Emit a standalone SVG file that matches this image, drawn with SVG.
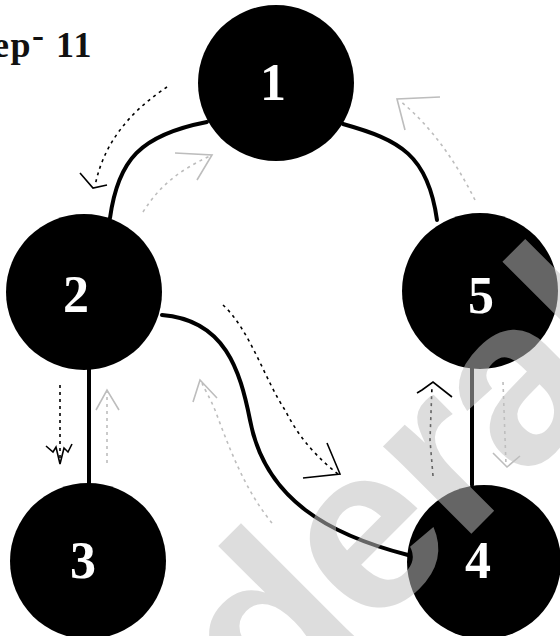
<svg xmlns="http://www.w3.org/2000/svg" width="560" height="636" viewBox="0 0 560 636">
  <style>
    .node circle { fill: #000; }
    .num { font-family: "Liberation Serif", "DejaVu Serif", serif; font-weight: bold; font-size: 52px; fill: #fff; text-anchor: middle; }
    .edge { fill: none; stroke: #000; stroke-width: 4; stroke-linecap: round; }
    .blk { fill: none; stroke: #000; stroke-width: 1.6; stroke-dasharray: 3 4; }
    .blkh { fill: none; stroke: #000; stroke-width: 1.6; }
    .gry { fill: none; stroke: #bdbdbd; stroke-width: 1.6; stroke-dasharray: 3 4; }
    .gryh { fill: none; stroke: #bdbdbd; stroke-width: 1.6; }
    .title { font-family: "Liberation Serif", "DejaVu Serif", serif; font-weight: bold; font-size: 36px; fill: #111; letter-spacing: 1.5px; }
    .wm { font-family: "Liberation Sans", Arial, sans-serif; font-weight: bold; font-size: 235px; fill: #bfbfbf; fill-opacity: 0.53; letter-spacing: -4px; }
  </style>
  <rect width="560" height="636" fill="#fff"/>
  <text class="title" x="93" y="57" text-anchor="end">Step<tspan dy="-10">-</tspan><tspan dy="10"> 11</tspan></text>

  <g id="connectors">
    <path class="edge" d="M110,218 C118,160 140,135 207,122"/>
    <path class="edge" d="M343,124 C400,140 428,155 437,220"/>
    <path class="edge" d="M162,315 C225,320 240,370 250,420 C265,500 330,535 408,555"/>
    <line class="edge" x1="89" y1="368" x2="89" y2="485"/>
    <line class="edge" x1="472" y1="367" x2="472" y2="485"/>

    <path class="blk" d="M167,87 C140,105 105,135 95,186"/>
    <path class="blkh" d="M80,173 L93,188 L107,185"/>
    <path class="gry" d="M143,212 C160,185 180,170 210,156"/>
    <path class="gryh" d="M175,153 L212,155 L197,180"/>
    <path class="blk" d="M60,385 L60,463"/>
    <path class="blkh" d="M46,446 L53,452 L56,447 L60,464 L64,448 L68,452 L72,444"/>
    <path class="gry" d="M107,463 L107,392"/>
    <path class="gryh" d="M96,410 L107,390 L119,410"/>
    <path class="blk" d="M223,305 C250,330 265,380 285,410 C300,440 320,460 338,474"/>
    <path class="blkh" d="M327,443 L340,474 L303,478"/>
    <path class="gry" d="M272,523 C245,490 230,450 215,410 C210,398 205,390 202,383"/>
    <path class="gryh" d="M193,402 L200,380 L217,398"/>
    <path class="blk" d="M433,476 L430,440 L432,386"/>
    <path class="blkh" d="M417,393 L422,390 L433,382 L452,397"/>
    <path class="gry" d="M503,382 L506,465"/>
    <path class="gryh" d="M493,453 L507,467 L520,456"/>
    <path class="gry" d="M475,200 C455,160 430,125 400,101"/>
    <path class="gryh" d="M440,97 L397,99 L405,130"/>
  </g>

  <g id="node1" class="node"><circle cx="276" cy="83" r="78"/><text class="num" x="273" y="100">1</text></g>
  <g id="node2" class="node"><circle cx="84" cy="292" r="78"/><text class="num" x="76" y="312">2</text></g>
  <g id="node3" class="node"><circle cx="88" cy="561" r="78"/><text class="num" x="83" y="578">3</text></g>
  <g id="node4" class="node"><circle cx="484" cy="562" r="77"/><text class="num" x="478" y="578">4</text></g>
  <g id="node5" class="node"><circle cx="480" cy="291" r="78"/><text class="num" x="481" y="313">5</text></g>

  <text class="wm" transform="translate(182,823) rotate(-45)">yderab</text>
</svg>
